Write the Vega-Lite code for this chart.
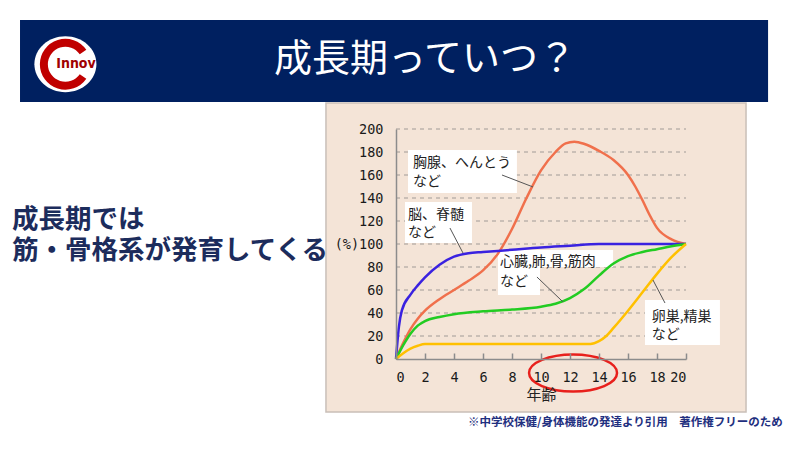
{
  "$schema": "https://vega.github.io/schema/vega-lite/v6.json",
  "width": 290,
  "height": 230,
  "autosize": {"type": "none"},
  "padding": {"left": 396, "top": 129, "right": 114, "bottom": 91},
  "background": "white",
  "config": {
    "view": {"stroke": null},
    "font": "Noto Sans CJK JP",
    "axis": {
      "labelOverlap": false,
      "labelFont": "DejaVu Sans Mono",
      "labelFontSize": 13.5,
      "labelColor": "#1a1a1a",
      "domainColor": "#8c8c8c",
      "domainWidth": 1.5,
      "tickColor": "#8c8c8c",
      "tickWidth": 1.5,
      "grid": false
    }
  },
  "datasets": {
    "curves": [
      {"organ": "胸腺、へんとう", "age": 0, "pct": 0},
      {"organ": "胸腺、へんとう", "age": 0.5, "pct": 14},
      {"organ": "胸腺、へんとう", "age": 1, "pct": 26},
      {"organ": "胸腺、へんとう", "age": 1.5, "pct": 35},
      {"organ": "胸腺、へんとう", "age": 2, "pct": 42},
      {"organ": "胸腺、へんとう", "age": 3, "pct": 52},
      {"organ": "胸腺、へんとう", "age": 4, "pct": 60},
      {"organ": "胸腺、へんとう", "age": 5, "pct": 68},
      {"organ": "胸腺、へんとう", "age": 6, "pct": 77},
      {"organ": "胸腺、へんとう", "age": 7, "pct": 91},
      {"organ": "胸腺、へんとう", "age": 8, "pct": 113},
      {"organ": "胸腺、へんとう", "age": 9, "pct": 140},
      {"organ": "胸腺、へんとう", "age": 10, "pct": 164},
      {"organ": "胸腺、へんとう", "age": 11, "pct": 180},
      {"organ": "胸腺、へんとう", "age": 11.7, "pct": 187.5},
      {"organ": "胸腺、へんとう", "age": 12.3, "pct": 189},
      {"organ": "胸腺、へんとう", "age": 13, "pct": 187},
      {"organ": "胸腺、へんとう", "age": 14, "pct": 181},
      {"organ": "胸腺、へんとう", "age": 15, "pct": 173},
      {"organ": "胸腺、へんとう", "age": 16, "pct": 160},
      {"organ": "胸腺、へんとう", "age": 16.5, "pct": 150},
      {"organ": "胸腺、へんとう", "age": 17, "pct": 138},
      {"organ": "胸腺、へんとう", "age": 17.5, "pct": 125},
      {"organ": "胸腺、へんとう", "age": 18, "pct": 114},
      {"organ": "胸腺、へんとう", "age": 19, "pct": 104},
      {"organ": "胸腺、へんとう", "age": 20, "pct": 100},
      {"organ": "脳、脊髄", "age": 0, "pct": 0},
      {"organ": "脳、脊髄", "age": 0.2, "pct": 28},
      {"organ": "脳、脊髄", "age": 0.4, "pct": 42},
      {"organ": "脳、脊髄", "age": 1, "pct": 56},
      {"organ": "脳、脊髄", "age": 1.5, "pct": 64},
      {"organ": "脳、脊髄", "age": 2, "pct": 71},
      {"organ": "脳、脊髄", "age": 3, "pct": 82},
      {"organ": "脳、脊髄", "age": 4, "pct": 89},
      {"organ": "脳、脊髄", "age": 5, "pct": 92},
      {"organ": "脳、脊髄", "age": 6, "pct": 93},
      {"organ": "脳、脊髄", "age": 8, "pct": 95},
      {"organ": "脳、脊髄", "age": 10, "pct": 97},
      {"organ": "脳、脊髄", "age": 12, "pct": 98.5},
      {"organ": "脳、脊髄", "age": 14, "pct": 100},
      {"organ": "脳、脊髄", "age": 17, "pct": 100},
      {"organ": "脳、脊髄", "age": 20, "pct": 100},
      {"organ": "心臓,肺,骨,筋肉", "age": 0, "pct": 0},
      {"organ": "心臓,肺,骨,筋肉", "age": 0.5, "pct": 12},
      {"organ": "心臓,肺,骨,筋肉", "age": 1, "pct": 22},
      {"organ": "心臓,肺,骨,筋肉", "age": 1.5, "pct": 29},
      {"organ": "心臓,肺,骨,筋肉", "age": 2, "pct": 33},
      {"organ": "心臓,肺,骨,筋肉", "age": 3, "pct": 36.5},
      {"organ": "心臓,肺,骨,筋肉", "age": 4, "pct": 39},
      {"organ": "心臓,肺,骨,筋肉", "age": 6, "pct": 41.5},
      {"organ": "心臓,肺,骨,筋肉", "age": 8, "pct": 43},
      {"organ": "心臓,肺,骨,筋肉", "age": 10, "pct": 45.5},
      {"organ": "心臓,肺,骨,筋肉", "age": 11, "pct": 48},
      {"organ": "心臓,肺,骨,筋肉", "age": 12, "pct": 53},
      {"organ": "心臓,肺,骨,筋肉", "age": 13, "pct": 61},
      {"organ": "心臓,肺,骨,筋肉", "age": 14, "pct": 72.5},
      {"organ": "心臓,肺,骨,筋肉", "age": 15, "pct": 83},
      {"organ": "心臓,肺,骨,筋肉", "age": 16, "pct": 89.5},
      {"organ": "心臓,肺,骨,筋肉", "age": 17, "pct": 93},
      {"organ": "心臓,肺,骨,筋肉", "age": 18, "pct": 95.5},
      {"organ": "心臓,肺,骨,筋肉", "age": 19, "pct": 98},
      {"organ": "心臓,肺,骨,筋肉", "age": 20, "pct": 100},
      {"organ": "卵巣,精巣", "age": 0, "pct": 0},
      {"organ": "卵巣,精巣", "age": 0.5, "pct": 5},
      {"organ": "卵巣,精巣", "age": 1, "pct": 9},
      {"organ": "卵巣,精巣", "age": 1.5, "pct": 11.5},
      {"organ": "卵巣,精巣", "age": 2, "pct": 13},
      {"organ": "卵巣,精巣", "age": 8, "pct": 13},
      {"organ": "卵巣,精巣", "age": 13.4, "pct": 13},
      {"organ": "卵巣,精巣", "age": 14, "pct": 15.5},
      {"organ": "卵巣,精巣", "age": 14.5, "pct": 20},
      {"organ": "卵巣,精巣", "age": 15, "pct": 27},
      {"organ": "卵巣,精巣", "age": 16, "pct": 42},
      {"organ": "卵巣,精巣", "age": 17, "pct": 58},
      {"organ": "卵巣,精巣", "age": 18, "pct": 74},
      {"organ": "卵巣,精巣", "age": 19, "pct": 88.5},
      {"organ": "卵巣,精巣", "age": 20, "pct": 100}
    ],
    "gridlines": [
      {"pct": 20}, {"pct": 40}, {"pct": 60}, {"pct": 80}, {"pct": 100},
      {"pct": 120}, {"pct": 140}, {"pct": 160}, {"pct": 180}, {"pct": 200}
    ],
    "panel": [{"a0": -4.83, "a1": 24.14, "p0": -46.1, "p1": 222.6}],
    "banner": [{"a0": -25.93, "a1": 25.66, "p0": 223.5, "p1": 294.8}],
    "boxes": [
      {"a0": 0.83, "a1": 8.34, "p0": 144.3, "p1": 181.7},
      {"a0": 0.62, "a1": 5.24, "p0": 100.9, "p1": 136.5},
      {"a0": 7.03, "a1": 14.97, "p0": 80.0, "p1": 94.8},
      {"a0": 7.03, "a1": 9.93, "p0": 55.7, "p1": 80.0},
      {"a0": 17.17, "a1": 22.34, "p0": 12.2, "p1": 51.3}
    ],
    "notes": [
      {"age": 1.17, "pct": 170.2, "text": "胸腺、へんとう"},
      {"age": 1.17, "pct": 154.2, "text": "など"},
      {"age": 0.83, "pct": 125.0, "text": "脳、脊髄"},
      {"age": 0.83, "pct": 109.4, "text": "など"},
      {"age": 7.17, "pct": 84.2, "text": "心臓,肺,骨,筋肉"},
      {"age": 7.17, "pct": 67.2, "text": "など"},
      {"age": 17.63, "pct": 36.3, "text": "卵巣,精巣"},
      {"age": 17.63, "pct": 20.7, "text": "など"}
    ],
    "leaders": [
      {"a0": 7.31, "p0": 160.0, "a1": 9.45, "p1": 149.6},
      {"a0": 3.72, "p0": 113.9, "a1": 4.62, "p1": 92.2},
      {"a0": 9.72, "p0": 71.3, "a1": 11.52, "p1": 49.6},
      {"a0": 17.72, "p0": 68.7, "a1": 18.55, "p1": 48.7}
    ],
    "title": [{"age": 2.0, "pct": 260, "text": "成長期っていつ？"}],
    "lead": [
      {"age": -26.48, "pct": 120.9, "text": "成長期では"},
      {"age": -26.48, "pct": 93.9, "text": "筋・骨格系が発育してくる"}
    ],
    "footnote": [{"age": 4.97, "pct": -55.4, "text": "※中学校保健/身体機能の発達より引用　著作権フリーのため"}],
    "logo": [{"age": -22.8, "pct": 256.3}],
    "logotext": [{"age": -22.07, "pct": 256.3, "text": "Innov"}],
    "highlight": [{"age": 12.21, "pct": -12.2}]
  },
  "layer": [
    {
      "data": {"name": "panel"},
      "mark": {"type": "rect", "fill": "#f4e4d7", "stroke": "#c9bfb8", "strokeWidth": 1.5},
      "encoding": {
        "x": {
          "field": "a0", "type": "quantitative",
          "scale": {"domain": [0, 20], "nice": false, "zero": false},
          "axis": {
            "values": [0, 2, 4, 6, 8, 10, 12, 14, 16, 18, 20],
            "tickCount": 30,
            "format": "d",
            "labelOverlap": false,
            "zindex": 1,
            "tickSize": -6,
            "labelPadding": 17,
            "title": "年齢", "titleFont": "Noto Sans CJK JP", "titleFontSize": 15, "titleFontWeight": "normal",
            "titleColor": "#222222", "titlePadding": 4
          }
        },
        "x2": {"field": "a1"},
        "y": {
          "field": "p0", "type": "quantitative",
          "scale": {"domain": [0, 200], "nice": false, "zero": false},
          "axis": {
            "values": [0, 20, 40, 60, 80, 100, 120, 140, 160, 180, 200],
            "tickCount": 30,
            "format": "d",
            "labelOverlap": false,
            "zindex": 1,
            "ticks": false,
            "labelPadding": 13,
            "labelExpr": "datum.value == 100 ? '(%)100' : datum.label",
            "title": null
          }
        },
        "y2": {"field": "p1"}
      }
    },
    {
      "data": {"name": "banner"},
      "mark": {"type": "rect", "fill": "#002060"},
      "encoding": {
        "x": {"field": "a0", "type": "quantitative"},
        "x2": {"field": "a1"},
        "y": {"field": "p0", "type": "quantitative"},
        "y2": {"field": "p1"}
      }
    },
    {
      "data": {"name": "gridlines"},
      "mark": {"type": "rule", "color": "#a09a96", "strokeWidth": 1, "strokeDash": [4, 4]},
      "encoding": {
        "x": {"datum": 0, "type": "quantitative"},
        "x2": {"datum": 20},
        "y": {"field": "pct", "type": "quantitative"}
      }
    },
    {
      "data": {"name": "boxes"},
      "mark": {"type": "rect", "fill": "white"},
      "encoding": {
        "x": {"field": "a0", "type": "quantitative"},
        "x2": {"field": "a1"},
        "y": {"field": "p0", "type": "quantitative"},
        "y2": {"field": "p1"}
      }
    },
    {
      "data": {"name": "curves"},
      "mark": {"type": "line", "strokeWidth": 2.5, "interpolate": "monotone"},
      "encoding": {
        "x": {"field": "age", "type": "quantitative"},
        "y": {"field": "pct", "type": "quantitative"},
        "color": {
          "field": "organ", "type": "nominal", "legend": null,
          "scale": {
            "domain": ["胸腺、へんとう", "脳、脊髄", "心臓,肺,骨,筋肉", "卵巣,精巣"],
            "range": ["#f0704c", "#3a22e0", "#22cc22", "#ffc000"]
          }
        }
      }
    },
    {
      "data": {"name": "leaders"},
      "mark": {"type": "rule", "color": "#555555", "strokeWidth": 1},
      "encoding": {
        "x": {"field": "a0", "type": "quantitative"},
        "x2": {"field": "a1"},
        "y": {"field": "p0", "type": "quantitative"},
        "y2": {"field": "p1"}
      }
    },
    {
      "data": {"name": "notes"},
      "mark": {"type": "text", "align": "left", "baseline": "middle", "font": "Noto Sans CJK JP", "fontSize": 14, "color": "#222222"},
      "encoding": {
        "x": {"field": "age", "type": "quantitative"},
        "y": {"field": "pct", "type": "quantitative"},
        "text": {"field": "text"}
      }
    },
    {
      "data": {"name": "title"},
      "mark": {"type": "text", "align": "center", "baseline": "middle", "font": "Noto Sans CJK JP", "fontSize": 38, "color": "white"},
      "encoding": {
        "x": {"field": "age", "type": "quantitative"},
        "y": {"field": "pct", "type": "quantitative"},
        "text": {"field": "text"}
      }
    },
    {
      "data": {"name": "lead"},
      "mark": {"type": "text", "align": "left", "baseline": "middle", "font": "Noto Sans CJK JP", "fontSize": 26.5, "fontWeight": "bold", "color": "#1c2c5c"},
      "encoding": {
        "x": {"field": "age", "type": "quantitative"},
        "y": {"field": "pct", "type": "quantitative"},
        "text": {"field": "text"}
      }
    },
    {
      "data": {"name": "footnote"},
      "mark": {"type": "text", "align": "left", "baseline": "middle", "font": "Noto Sans CJK JP", "fontSize": 11.5, "fontWeight": "bold", "color": "#1f3080"},
      "encoding": {
        "x": {"field": "age", "type": "quantitative"},
        "y": {"field": "pct", "type": "quantitative"},
        "text": {"field": "text"}
      }
    },
    {
      "data": {"name": "logo"},
      "mark": {"type": "point", "shape": "M -1 0 A 1 0.9 0 1 0 1 0 A 1 0.9 0 1 0 -1 0 Z", "size": 3844, "filled": true, "fill": "white", "opacity": 1},
      "encoding": {
        "x": {"field": "age", "type": "quantitative"},
        "y": {"field": "pct", "type": "quantitative"}
      }
    },
    {
      "data": {"name": "logo"},
      "mark": {"type": "point", "shape": "M 0.82 -0.57 A 1 1 0 1 0 0.82 0.57", "size": 1849, "filled": false, "stroke": "#c00000", "strokeWidth": 8, "opacity": 1},
      "encoding": {
        "x": {"field": "age", "type": "quantitative"},
        "y": {"field": "pct", "type": "quantitative"}
      }
    },
    {
      "data": {"name": "logotext"},
      "mark": {"type": "text", "align": "center", "baseline": "middle", "font": "Liberation Sans Narrow, DejaVu Sans Condensed, sans-serif", "fontSize": 14, "fontWeight": "bold", "color": "#a00000"},
      "encoding": {
        "x": {"field": "age", "type": "quantitative"},
        "y": {"field": "pct", "type": "quantitative"},
        "text": {"field": "text"}
      }
    },
    {
      "data": {"name": "highlight"},
      "mark": {"type": "point", "shape": "M -1 0 A 1 0.42 0 1 0 1 0 A 1 0.42 0 1 0 -1 0 Z", "size": 7744, "filled": false, "stroke": "#e8201c", "strokeWidth": 2.5, "opacity": 1},
      "encoding": {
        "x": {"field": "age", "type": "quantitative"},
        "y": {"field": "pct", "type": "quantitative"}
      }
    }
  ]
}
